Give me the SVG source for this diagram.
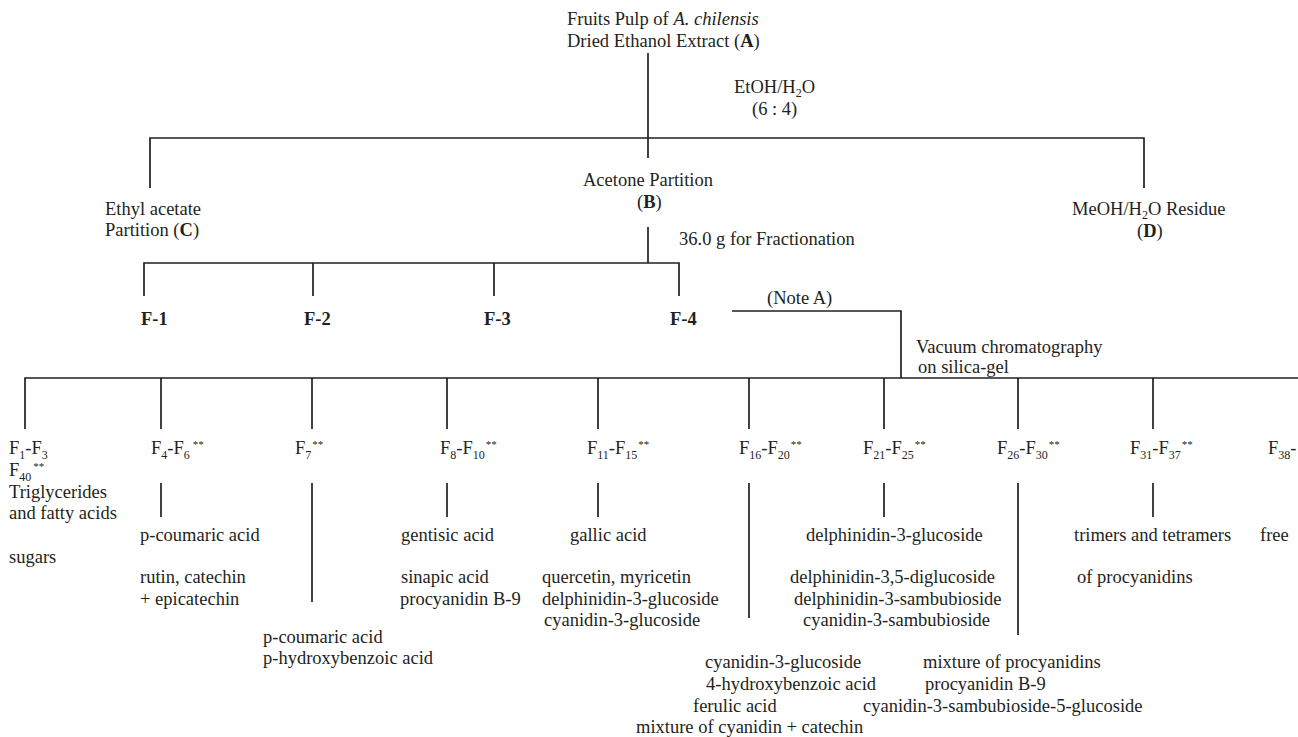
<svg xmlns="http://www.w3.org/2000/svg" width="1298" height="737" viewBox="0 0 1298 737">
<style>
text{font-family:"Liberation Serif","Times New Roman",serif;font-size:18.5px;fill:#231f20}
.b{font-weight:bold}
.i{font-style:italic}
.s{font-size:12px}
.p{font-size:11px}
#connectors path{fill:none;stroke:#231f20;stroke-width:1.7}
</style>
<rect width="1298" height="737" fill="#fff"/>
<g id="connectors">
<path d="M648 53V138"/>
<path d="M150 188V138H1144V188"/>
<path d="M648 138V158"/>
<path d="M648 227V263"/>
<path d="M144 296V263H679V296"/>
<path d="M313 263V296M494 263V296"/>
<path d="M732 311H901V378"/>
<path d="M25 429V378H1298"/>
<path d="M161 378V429M312 378V429M447 378V429M598 378V429M749 378V429M884 378V429M1018 378V429M1153 378V429"/>
<path d="M161 483V517M312 483V602M447 483V517M598 483V517M749 483V618M884 483V517M1018 483V635M1153 483V517"/>
</g>
<g id="nodeA">
<text x="567" y="25">Fruits Pulp of <tspan class="i">A. chilensis</tspan></text>
<text x="567" y="47">Dried Ethanol Extract (<tspan class="b">A</tspan>)</text>
</g>
<g id="solvent">
<text x="734" y="93">EtOH/H<tspan class="s" dy="4">2</tspan><tspan dy="-4">O</tspan></text>
<text x="752" y="115">(6 : 4)</text>
</g>
<g id="nodeC">
<text x="105" y="215">Ethyl acetate</text>
<text x="105" y="236">Partition (<tspan class="b">C</tspan>)</text>
</g>
<g id="nodeB">
<text x="583" y="186">Acetone Partition</text>
<text x="637" y="208">(<tspan class="b">B</tspan>)</text>
</g>
<g id="nodeD">
<text x="1072" y="215">MeOH/H<tspan class="s" dy="4">2</tspan><tspan dy="-4">O Residue</tspan></text>
<text x="1137" y="237">(<tspan class="b">D</tspan>)</text>
</g>
<g id="fractionation">
<text x="679" y="245">36.0 g for Fractionation</text>
</g>
<g id="F-1"><text class="b" x="141" y="325">F-1</text></g>
<g id="F-2"><text class="b" x="304" y="325">F-2</text></g>
<g id="F-3"><text class="b" x="484" y="325">F-3</text></g>
<g id="F-4"><text class="b" x="670" y="325">F-4</text></g>
<g id="noteA"><text x="767" y="304">(Note A)</text></g>
<g id="vacuum">
<text x="916" y="353">Vacuum chromatography</text>
<text x="918" y="373">on silica-gel</text>
</g>
<g id="f1-f3">
<text x="9" y="454">F<tspan class="s" dy="5">1</tspan><tspan dy="-5">-F</tspan><tspan class="s" dy="5">3</tspan></text>
<text x="9" y="476">F<tspan class="s" dy="5">40</tspan><tspan class="p" dx="2" dy="-11">**</tspan></text>
<text x="9" y="498">Triglycerides</text>
<text x="9" y="519">and fatty acids</text>
<text x="9" y="563">sugars</text>
</g>
<g id="f4-f6">
<text x="151" y="454">F<tspan class="s" dy="5">4</tspan><tspan dy="-5">-F</tspan><tspan class="s" dy="5">6</tspan><tspan class="p" dx="3" dy="-11">**</tspan></text>
<text x="140" y="541">p-coumaric acid</text>
<text x="140" y="583">rutin, catechin</text>
<text x="140" y="605">+ epicatechin</text>
</g>
<g id="f7">
<text x="295" y="454">F<tspan class="s" dy="5">7</tspan><tspan class="p" dx="1" dy="-11">**</tspan></text>
<text x="263" y="643">p-coumaric acid</text>
<text x="263" y="664">p-hydroxybenzoic acid</text>
</g>
<g id="f8-f10">
<text x="440" y="454">F<tspan class="s" dy="5">8</tspan><tspan dy="-5">-F</tspan><tspan class="s" dy="5">10</tspan><tspan class="p" dx="1" dy="-11">**</tspan></text>
<text x="401" y="541">gentisic acid</text>
<text x="401" y="583">sinapic acid</text>
<text x="400" y="605">procyanidin B-9</text>
</g>
<g id="f11-f15">
<text x="587" y="454">F<tspan class="s" dy="5">11</tspan><tspan dy="-5">-F</tspan><tspan class="s" dy="5">15</tspan><tspan class="p" dx="1" dy="-11">**</tspan></text>
<text x="570" y="541">gallic acid</text>
<text x="542" y="583">quercetin, myricetin</text>
<text x="542" y="605">delphinidin-3-glucoside</text>
<text x="544" y="626">cyanidin-3-glucoside</text>
</g>
<g id="f16-f20">
<text x="739" y="454">F<tspan class="s" dy="5">16</tspan><tspan dy="-5">-F</tspan><tspan class="s" dy="5">20</tspan><tspan class="p" dx="1" dy="-11">**</tspan></text>
<text x="705" y="668">cyanidin-3-glucoside</text>
<text x="706" y="690">4-hydroxybenzoic acid</text>
<text x="693" y="712">ferulic acid</text>
<text x="636" y="733">mixture of cyanidin + catechin</text>
</g>
<g id="f21-f25">
<text x="863" y="454">F<tspan class="s" dy="5">21</tspan><tspan dy="-5">-F</tspan><tspan class="s" dy="5">25</tspan><tspan class="p" dx="1" dy="-11">**</tspan></text>
<text x="806" y="541">delphinidin-3-glucoside</text>
<text x="790" y="583">delphinidin-3,5-diglucoside</text>
<text x="794" y="605">delphinidin-3-sambubioside</text>
<text x="803" y="626">cyanidin-3-sambubioside</text>
</g>
<g id="f26-f30">
<text x="997" y="454">F<tspan class="s" dy="5">26</tspan><tspan dy="-5">-F</tspan><tspan class="s" dy="5">30</tspan><tspan class="p" dx="1" dy="-11">**</tspan></text>
<text x="923" y="668">mixture of procyanidins</text>
<text x="925" y="690">procyanidin B-9</text>
<text x="863" y="712">cyanidin-3-sambubioside-5-glucoside</text>
</g>
<g id="f31-f37">
<text x="1130" y="454">F<tspan class="s" dy="5">31</tspan><tspan dy="-5">-F</tspan><tspan class="s" dy="5">37</tspan><tspan class="p" dx="1" dy="-11">**</tspan></text>
<text x="1074" y="541">trimers and tetramers</text>
<text x="1077" y="583">of procyanidins</text>
</g>
<g id="f38">
<text x="1268" y="454">F<tspan class="s" dy="5">38</tspan><tspan dy="-5">-</tspan></text>
<text x="1260" y="541">free</text>
</g>
</svg>
